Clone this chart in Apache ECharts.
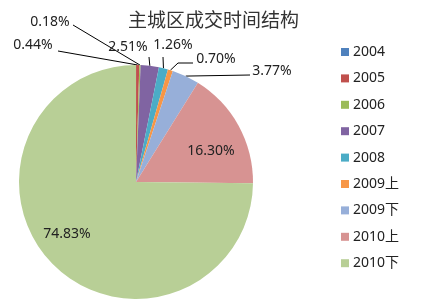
<!DOCTYPE html>
<html><head><meta charset="utf-8">
<script src="https://cdn.jsdelivr.net/npm/echarts@6/dist/echarts.min.js"></script>
<style>html,body{margin:0;padding:0;background:#fff}#c{width:427px;height:300px}</style>
</head><body><div id="c"></div>
<script>
const titleText = '主城区成交时间结构';
const categories = ['2004','2005','2006','2007','2008','2009上','2009下','2010上','2010下'];
const values = [0.01, 0.44, 0.18, 2.51, 1.26, 0.70, 3.77, 16.30, 74.83];
const colors = ['#4F81BD','#C0504D','#9BBB59','#8064A2','#4BACC6','#F79646','#97AFD9','#D79392','#B8CF96'];
// label anchor layout (label center x, y), and optional elbow for leader line
const labelPos = [null, [33,45], [50,22], [128,47], [173,45], [216,59], [272,71], [211,151], [67,234]];
const lineEnds = [null, [[58,51]], [[73,25]], [[149,57]], [[163,57]], [[178,63],[193,63]], [[250,75]], null, null];

const chart = echarts.init(document.getElementById('c'));
const font = 'Noto Sans, Noto Sans CJK SC, sans-serif';
chart.setOption({
  animation: false,
  title: {text: titleText, left: 'center', top: 5,
    textStyle: {fontFamily: 'Noto Sans CJK SC', fontSize: 19, fontWeight: 'normal', color: '#333'}},
  legend: {orient: 'vertical', left: 336, top: 40, itemWidth: 8, itemHeight: 8, itemGap: 12.4,
    icon: 'rect', data: categories,
    textStyle: {fontFamily: font, fontSize: 14, color: '#222', lineHeight: 14, padding: [0,0,0,-1]}},
  series: [{
    type: 'pie', center: [136, 182], radius: 117, startAngle: 90, clockwise: true,
    avoidLabelOverlap: false,
    itemStyle: {borderWidth: 0},
    data: categories.map((c, i) => ({
      name: c, value: values[i], itemStyle: {color: colors[i]},
      label: {show: i !== 0, position: i >= 7 ? 'inside' : 'outside'},
      labelLine: {show: i > 0 && i < 7}
    })),
    label: {formatter: p => p.value.toFixed(2) + '%', fontFamily: font, fontSize: 14, color: '#222'},
    labelLine: {length: 10, length2: 10, smooth: false, lineStyle: {color: '#000', width: 1}},
    labelLayout: function (p) {
      const pos = labelPos[p.dataIndex];
      if (!pos) return {};
      const res = {x: pos[0], y: pos[1], align: 'center', verticalAlign: 'middle'};
      const le = lineEnds[p.dataIndex];
      if (le && p.labelLinePoints) {
        const start = p.labelLinePoints[0];
        res.labelLinePoints = [start].concat(le.length === 1 ? [le[0], le[0]] : le);
      }
      return res;
    }
  }]
});
</script></body></html>
